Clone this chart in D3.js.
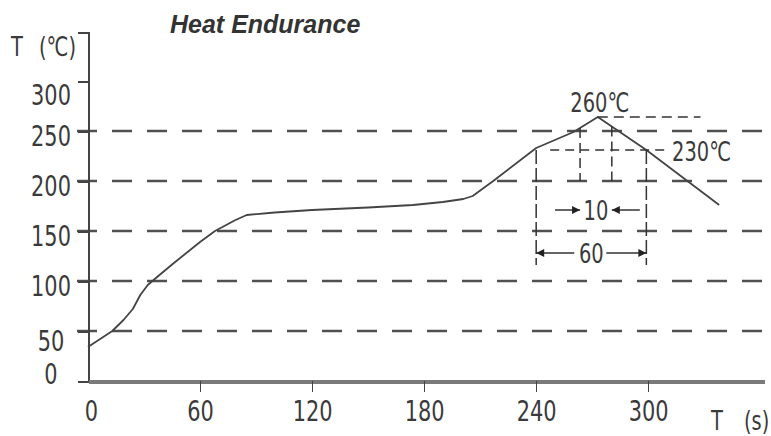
<!DOCTYPE html>
<html>
<head>
<meta charset="utf-8">
<script src="https://cdn.jsdelivr.net/npm/d3@7"></script>
<style>
  body { margin: 0; background: #fff; }
  svg { display: block; }
</style>
</head>
<body>
<script>
// reflow profile
const profileTime = [0, 13, 19, 24, 28, 32, 37, 46, 60, 68, 79, 85, 100, 120, 150, 174, 190, 201, 206, 217, 240, 260, 273, 299, 338];
const profileTemp = [34, 50, 61, 72, 86, 96, 104, 118, 139, 150, 161, 166, 168.5, 171, 173.5, 176, 179, 182, 185, 200, 233, 249, 264, 231, 176];

const tempTicks  = [0, 50, 100, 150, 200, 250, 300];
const gridLevels = [50, 100, 150, 200, 250];
const timeTicks  = [0, 60, 120, 180, 240, 300];

// annotation values
const peakTime    = 273;
const peakTemp    = 264;
const holdTemp    = 231;
const holdWindow  = [240, 299];
const peakWindow  = [263.5, 280.5];
const peakLabel   = '260℃';
const holdLabel   = '230℃';
const peakSpan    = '10';
const holdSpan    = '60';

const width  = 771;
const height = 436;

// the numbers in the source are tall and narrow, so squeeze them
const numFont = "'DejaVu Sans Condensed', 'DejaVu Sans', sans-serif";
const squeeze = 0.8;
const ink = '#3a3a3a';

const svg = d3.select('body')
  .append('svg')
    .attr('width', width)
    .attr('height', height);

// scales
const x = d3.scaleLinear().domain([0, 362]).range([88, 764]);
const y = d3.scaleLinear().domain([0, 349]).range([381, 32]);

// arrow heads
svg.append('defs')
  .append('marker')
    .attr('id', 'arrow')
    .attr('viewBox', '0 0 10 10')
    .attr('refX', 10)
    .attr('refY', 5)
    .attr('markerUnits', 'userSpaceOnUse')
    .attr('markerWidth', 10)
    .attr('markerHeight', 8)
    .attr('orient', 'auto')
  .append('path')
    .attr('d', 'M0,0L10,5L0,10z')
    .attr('fill', '#222');

// narrow text helper: x is given in unsqueezed coordinates
const numText = (sel, size) => sel
  .attr('transform', `scale(${squeeze},1)`)
  .attr('font-family', numFont)
  .attr('font-size', size)
  .attr('fill', ink);

// title
svg.append('text')
  .attr('x', 170)
  .attr('y', 33)
  .attr('font-family', "'Liberation Sans', Arial, sans-serif")
  .attr('font-size', 25)
  .attr('font-weight', 'bold')
  .attr('font-style', 'italic')
  .attr('fill', '#333')
  .text('Heat Endurance');

// dashed grid
svg.append('g')
  .selectAll('line')
  .data(gridLevels)
  .join('line')
    .attr('x1', x(0) - 11)
    .attr('x2', x.range()[1])
    .attr('y1', (d) => y(d))
    .attr('y2', (d) => y(d))
    .attr('stroke', '#505050')
    .attr('stroke-width', 2.5)
    .attr('stroke-dasharray', '20,15');

// y axis
const yAxis = svg.append('g')
  .attr('transform', `translate(${x(0)},0)`)
  .call(d3.axisLeft(y).tickValues(tempTicks).tickSize(10).tickFormat(d3.format('d')));

yAxis.select('.domain')
  .attr('stroke', '#444')
  .attr('stroke-width', 2);

yAxis.selectAll('.tick line')
  .attr('stroke', '#444')
  .attr('stroke-width', 2)
  .attr('opacity', (d) => (d === 0 ? 0 : 1));

// label nudges so 0 and 50 don't collide
const yNudge = { 0: -8, 50: 9, 300: 13 };
yAxis.selectAll('.tick text')
  .call(numText, 29)
  .attr('x', (51 - x(0)) / squeeze)
  .attr('dy', (d) => `${0.36 * 29 + (yNudge[d] ?? 4)}px`)
  .attr('text-anchor', 'middle');

// x axis
const xAxis = svg.append('g')
  .attr('transform', `translate(0,${y(0)})`)
  .call(d3.axisBottom(x).tickValues(timeTicks).tickSize(11).tickSizeOuter(0));

xAxis.select('.domain')
  .attr('stroke', '#7a7a7a')
  .attr('stroke-width', 4);

xAxis.selectAll('.tick line')
  .attr('stroke', '#444')
  .attr('stroke-width', 1.5)
  .attr('opacity', (d) => (d === 0 ? 0 : 1));

xAxis.selectAll('.tick text')
  .call(numText, 29)
  .attr('y', 30)
  .attr('dy', '0.36em')
  .attr('x', (d) => (d === 0 ? 3 : 0) / squeeze);

svg.selectAll('.domain, .tick line').attr('shape-rendering', 'crispEdges');

// axis titles
const yTitle = svg.append('text')
  .attr('y', 46)
  .attr('dy', '0.36em')
  .call(numText, 27);
yTitle.append('tspan').attr('x', 11 / squeeze).text('T');
yTitle.append('tspan').attr('x', 39 / squeeze).text('(℃)');

const xTitle = svg.append('text')
  .attr('y', 420)
  .attr('dy', '0.36em')
  .call(numText, 27);
xTitle.append('tspan').attr('x', 711 / squeeze).text('T');
xTitle.append('tspan').attr('x', 744 / squeeze).text('(s)');

// profile curve
const profile = d3.zip(profileTime, profileTemp);

svg.append('path')
  .datum(profile)
  .attr('fill', 'none')
  .attr('stroke', '#444')
  .attr('stroke-width', 1.8)
  .attr('stroke-linejoin', 'round')
  .attr('d', d3.line().x((d) => x(d[0])).y((d) => y(d[1])));

// temperature on the curve at time t
const tempAt = (t) => {
  const i = d3.bisectRight(profileTime, t);
  const t0 = profileTime[i - 1], t1 = profileTime[i];
  return profileTemp[i - 1] + (profileTemp[i] - profileTemp[i - 1]) * (t - t0) / (t1 - t0);
};

const notes = svg.append('g')
  .attr('stroke', '#333')
  .attr('stroke-width', 1.5)
  .attr('fill', 'none');

// peak level line
notes.append('line')
  .attr('x1', x(peakTime)).attr('x2', x(328))
  .attr('y1', y(peakTemp)).attr('y2', y(peakTemp))
  .attr('stroke-dasharray', '10,6');

// 230 level line
notes.append('line')
  .attr('x1', x(holdWindow[0]) + 14).attr('x2', x(310))
  .attr('y1', y(holdTemp)).attr('y2', y(holdTemp))
  .attr('stroke-dasharray', '9,6');

// outer verticals
notes.selectAll('.outer')
  .data(holdWindow)
  .join('line')
    .attr('class', 'outer')
    .attr('x1', (d) => x(d)).attr('x2', (d) => x(d))
    .attr('y1', y(holdTemp)).attr('y2', y(116))
    .attr('stroke-dasharray', '14,4');

// inner verticals
notes.selectAll('.inner')
  .data(peakWindow)
  .join('line')
    .attr('class', 'inner')
    .attr('x1', (d) => x(d)).attr('x2', (d) => x(d))
    .attr('y1', (d) => y(tempAt(d))).attr('y2', y(200))
    .attr('stroke-dasharray', '10,5');

// dimension arrows
const spanY10 = y(171);
const spanY60 = y(128);
const mid60 = (x(holdWindow[0]) + x(holdWindow[1])) / 2;
const mid10 = (x(peakWindow[0]) + x(peakWindow[1])) / 2;

const arrows = [
  [x(peakWindow[0]) - 25, spanY10, x(peakWindow[0]), spanY10],
  [x(peakWindow[1]) + 28, spanY10, x(peakWindow[1]), spanY10],
  [mid60 - 17, spanY60, x(holdWindow[0]), spanY60],
  [mid60 + 15, spanY60, x(holdWindow[1]), spanY60]
];

notes.selectAll('.arrow')
  .data(arrows)
  .join('line')
    .attr('class', 'arrow')
    .attr('x1', (d) => d[0]).attr('y1', (d) => d[1])
    .attr('x2', (d) => d[2]).attr('y2', (d) => d[3])
    .attr('marker-end', 'url(#arrow)');

// annotation labels
const labels = [
  { text: peakLabel, x: x(peakTime) + 2, y: y(peakTemp) - 15, anchor: 'middle' },
  { text: holdLabel, x: x(312.8), y: y(holdTemp) + 1, anchor: 'start' },
  { text: peakSpan, x: mid10, y: spanY10, anchor: 'middle' },
  { text: holdSpan, x: mid60, y: spanY60, anchor: 'middle' }
];

svg.append('g')
  .selectAll('text')
  .data(labels)
  .join('text')
    .call(numText, 27)
    .attr('x', (d) => d.x / squeeze)
    .attr('y', (d) => d.y)
    .attr('dy', '0.36em')
    .attr('text-anchor', (d) => d.anchor)
    .text((d) => d.text);
</script>
</body>
</html>
